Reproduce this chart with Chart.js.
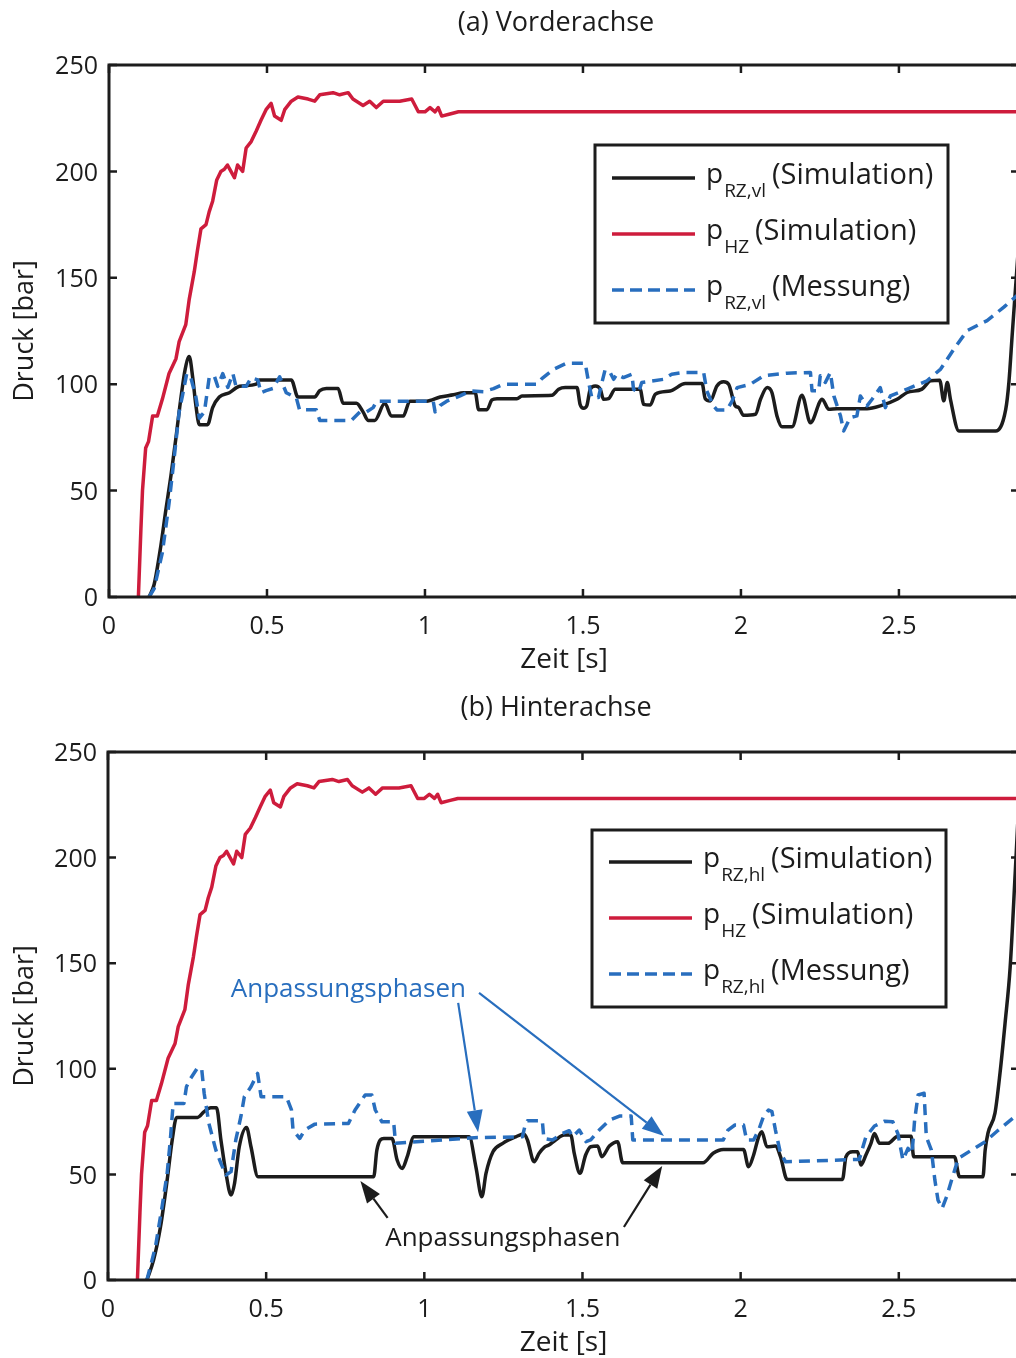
<!DOCTYPE html>
<html>
<head>
<meta charset="utf-8">
<script src="https://cdn.jsdelivr.net/npm/chart.js@4.4.1/dist/chart.umd.min.js"></script>
<style>
  body { margin: 0; width: 1016px; height: 1358px; overflow: hidden; background: #fff; }
  .panel { width: 1020px; height: 679px; }
  canvas { display: block; }
</style>
</head>
<body>
<div class="panel"><canvas id="front" width="1020" height="679"></canvas></div>
<div class="panel"><canvas id="rear" width="1020" height="679"></canvas></div>
<script>
// values (time in s, pressure in bar)

// master cylinder pressure p_HZ (same curve in both panels)
const tHZ = [0.093, 0.101, 0.106, 0.116, 0.125, 0.138, 0.153, 0.169, 0.19, 0.212, 0.222, 0.243, 0.254, 0.27, 0.28,
  0.291, 0.307, 0.317, 0.328, 0.341, 0.354, 0.365, 0.375, 0.386, 0.397, 0.407, 0.423, 0.434, 0.45, 0.466, 0.481,
  0.497, 0.513, 0.524, 0.545, 0.556, 0.577, 0.598, 0.63, 0.651, 0.667, 0.709, 0.73, 0.757, 0.772, 0.804, 0.825,
  0.846, 0.868, 0.92, 0.958, 0.979, 1.0, 1.016, 1.032, 1.042, 1.053, 1.079, 1.106, 2.88];
const pHZ = [0, 32, 50, 70, 73, 85, 85, 93, 105, 112, 120, 128, 140, 153, 163,
  173, 175, 181, 186, 196, 200, 201, 203, 200, 197, 203, 200, 211, 214, 219, 224,
  229, 232, 226, 224, 229, 233, 235, 234, 233, 236, 237, 236, 237, 234, 231, 233,
  230, 233, 233, 234, 228, 228, 230, 228, 230, 226, 227, 228, 228];

// (a) front axle, wheel cylinder simulation
const tVlSim = [0.127, 0.143, 0.164, 0.18, 0.196, 0.212, 0.228, 0.241, 0.254, 0.265, 0.275, 0.286, 0.312, 0.328,
  0.349, 0.381, 0.413, 0.466, 0.476, 0.577, 0.598, 0.651, 0.667, 0.688, 0.725, 0.741, 0.783, 0.804, 0.82, 0.841,
  0.873, 0.894, 0.931, 0.952, 1.005, 1.048, 1.09, 1.122, 1.159, 1.17, 1.196, 1.212, 1.228, 1.291, 1.307, 1.402,
  1.423, 1.444, 1.481, 1.491, 1.502, 1.512, 1.523, 1.539, 1.555, 1.565, 1.581, 1.602, 1.681, 1.692, 1.713, 1.729,
  1.776, 1.824, 1.877, 1.887, 1.903, 1.924, 1.945, 1.961, 1.982, 1.993, 2.008, 2.046, 2.062, 2.083, 2.098, 2.114,
  2.13, 2.162, 2.193, 2.22, 2.257, 2.278, 2.304, 2.399, 2.441, 2.494, 2.526, 2.573, 2.6, 2.629, 2.642, 2.653,
  2.663, 2.69, 2.806, 2.838, 2.848, 2.859, 2.88];
const pVlSim = [0, 6, 24, 41, 57, 75, 94, 107, 113, 103, 90, 81, 81, 89,
  94, 96, 99, 100, 102, 102, 94, 94, 97, 98, 98, 91, 91, 87, 83, 83,
  91, 85, 85, 92, 92, 94, 95, 96, 96, 88, 88, 92.6, 93.2, 93.2, 94.5, 94.8,
  97.6, 98.4, 98.4, 90.5, 88.7, 89.8, 97.6, 99.2, 97.6, 92.9, 93.2, 97.6, 97.6, 90.5, 90.2, 95.3,
  96.8, 100.3, 100.3, 93.2, 92.1, 99.2, 101.1, 100, 89.8, 89, 85.4, 85.9, 92.9, 98.4, 96.1, 85.1,
  80, 80, 94.8, 81.9, 92.9, 88.2, 88.5, 88.5, 89.8, 92.9, 96.1, 97.7, 101.6, 101.9, 92.2, 100.8,
  92.9, 78, 78, 88.2, 100.8, 124.4, 168];

// (a) front axle, wheel cylinder measurement
const tVlMess = [0.127, 0.143, 0.169, 0.19, 0.206, 0.222, 0.233, 0.246, 0.259, 0.275, 0.286, 0.302, 0.317, 0.333,
  0.344, 0.36, 0.376, 0.392, 0.402, 0.434, 0.45, 0.471, 0.481, 0.497, 0.519, 0.54, 0.561, 0.593, 0.603, 0.656,
  0.667, 0.767, 0.794, 0.815, 0.836, 0.847, 1.026, 1.032, 1.048, 1.069, 1.111, 1.143, 1.185, 1.217, 1.249, 1.354,
  1.37, 1.407, 1.449, 1.507, 1.518, 1.528, 1.549, 1.56, 1.57, 1.586, 1.597, 1.607, 1.628, 1.655, 1.66, 1.676,
  1.686, 1.718, 1.755, 1.781, 1.818, 1.882, 1.892, 1.913, 1.924, 1.956, 1.972, 1.988, 2.03, 2.072, 2.146, 2.22,
  2.225, 2.246, 2.251, 2.267, 2.283, 2.294, 2.315, 2.325, 2.346, 2.367, 2.378, 2.399, 2.415, 2.441, 2.457, 2.473,
  2.526, 2.589, 2.632, 2.674, 2.716, 2.779, 2.832, 2.88];
const pVlMess = [0, 4, 21, 44, 65, 87, 95, 105, 103, 94, 84, 87, 103, 104,
  99, 105, 98.5, 105, 99, 99, 103, 102, 96, 97, 98, 103.5, 96, 93.5, 88, 88,
  83, 83, 87, 87, 89, 92, 92, 87, 90, 92, 94.5, 96.8, 96.5, 97.9, 100, 100,
  102.6, 107, 109.9, 109.9, 100.8, 93.7, 93.7, 100.8, 106.7, 105.5, 102.3, 104.7, 103.1, 104.7, 97.6, 96,
  100.8, 101.5, 102.3, 104.7, 105.5, 105.5, 96.8, 89.8, 87.9, 87.9, 92.1, 98.4, 100, 104, 105.2, 105.5,
  96.9, 96.9, 104, 100.8, 105.5, 94.5, 85.1, 78, 84.3, 85.1, 94.5, 89.8, 92.9, 98.4, 89, 94.5,
  97.7, 101.6, 107.1, 116.5, 125.2, 129.9, 136.2, 142.5];

// (b) rear axle, wheel cylinder simulation
const tHlSim = [0.123, 0.144, 0.166, 0.187, 0.203, 0.217, 0.283, 0.304, 0.325, 0.343, 0.357, 0.373, 0.389, 0.4,
  0.415, 0.438, 0.452, 0.474, 0.84, 0.85, 0.872, 0.898, 0.914, 0.93, 0.946, 0.967, 1.142, 1.163, 1.182, 1.195,
  1.217, 1.248, 1.289, 1.315, 1.326, 1.347, 1.363, 1.379, 1.394, 1.415, 1.442, 1.463, 1.474, 1.492, 1.51, 1.526,
  1.548, 1.561, 1.585, 1.611, 1.627, 1.881, 1.913, 1.945, 2.009, 2.025, 2.041, 2.057, 2.067, 2.083, 2.11, 2.126,
  2.147, 2.322, 2.333, 2.354, 2.37, 2.38, 2.396, 2.412, 2.423, 2.439, 2.466, 2.497, 2.539, 2.547, 2.676, 2.692,
  2.766, 2.773, 2.782, 2.804, 2.82, 2.836, 2.852, 2.868, 2.88];
const pHlSim = [0, 9.4, 25.2, 47.3, 66.3, 77, 77, 79.7, 81.6, 81.6, 66.3, 50.5, 40.2, 45.7,
  63.1, 72.2, 63.1, 48.9, 48.9, 61.5, 67, 67, 56.8, 52.8, 58.4, 67.8, 67.8, 53.6, 39.4, 50.5,
  60.7, 64.7, 67.8, 69.1, 66.3, 56, 60, 62.8, 63.9, 66.3, 68.6, 68.6, 60, 50.5, 59.2, 63.1,
  63.4, 58.4, 63.4, 65.5, 55.5, 55.5, 60, 61.8, 61.8, 53.6, 59.2, 67.8, 70.2, 63.1, 63.4, 58.4,
  47.6, 47.6, 58.4, 60.7, 60.7, 54.4, 59.2, 64.7, 69.4, 64.7, 64.7, 68.1, 68.1, 58.4, 58.4, 48.9,
  48.9, 61.5, 69.6, 79, 98, 121.7, 148, 192.7, 228];

// (b) rear axle, wheel cylinder measurement
const tHlMess = [0.123, 0.15, 0.171, 0.187, 0.197, 0.206, 0.24, 0.248, 0.261, 0.282, 0.296, 0.304, 0.319, 0.341,
  0.357, 0.373, 0.389, 0.404, 0.42, 0.431, 0.452, 0.473, 0.484, 0.564, 0.58, 0.585, 0.606, 0.622, 0.654, 0.76,
  0.781, 0.813, 0.834, 0.845, 0.866, 0.903, 0.909, 1.158, 1.31, 1.32, 1.326, 1.373, 1.378, 1.405, 1.421, 1.437,
  1.458, 1.469, 1.49, 1.511, 1.526, 1.553, 1.585, 1.617, 1.654, 1.659, 1.945, 1.96, 1.982, 2.009, 2.019, 2.041,
  2.057, 2.072, 2.088, 2.099, 2.11, 2.126, 2.142, 2.375, 2.396, 2.423, 2.455, 2.481, 2.497, 2.513, 2.529, 2.542,
  2.55, 2.561, 2.58, 2.587, 2.603, 2.614, 2.624, 2.637, 2.651, 2.667, 2.688, 2.73, 2.773, 2.815, 2.88];
const pHlMess = [0, 15.7, 34.7, 50.5, 66.3, 83.6, 83.6, 91.5, 95.4, 100.2, 100.2, 88.4, 74.1, 61.5,
  55.2, 49.7, 51.3, 66.3, 77.3, 86.8, 91.5, 97.8, 86.8, 86.8, 80.5, 71, 67, 71, 73.8, 74.1,
  80.5, 87.6, 87.6, 80.5, 74.9, 74.9, 64.7, 67.4, 67.8, 74.1, 75.4, 75.4, 67, 66.3, 67.8, 69.4,
  70.7, 67.8, 71, 65.5, 66.3, 71, 75.7, 77.6, 77.6, 66.3, 66.3, 71, 73.4, 73.4, 66.3, 66.3,
  71, 77.3, 80.5, 79.7, 71, 60, 56, 57.1, 67.8, 72.9, 75.2, 74.9, 69.4, 56.8, 62.3, 59.9,
  75.7, 87.6, 88.4, 67.8, 61.5, 47.3, 37.8, 33.9, 39.4, 47.3, 57.6, 61.5, 65.5, 71, 79];

const RED = 'rgb(206, 28, 60)';
const BLUE = 'rgb(40, 110, 190)';
const BLACK = '#1c1c1c';
const FONT = '"Open Sans", sans-serif';

function points(t, p) {
    return t.map((x, i) => ({ x: x, y: p[i] }));
}

function drawArrow(ctx, x1, y1, x2, y2, color, width) {
    const ang = Math.atan2(y2 - y1, x2 - x1);
    const len = 22, half = 8;
    const bx = x2 - len * Math.cos(ang);
    const by = y2 - len * Math.sin(ang);
    ctx.strokeStyle = color;
    ctx.fillStyle = color;
    ctx.lineWidth = width;
    ctx.beginPath();
    ctx.moveTo(x1, y1);
    ctx.lineTo(bx, by);
    ctx.stroke();
    ctx.beginPath();
    ctx.moveTo(x2, y2);
    ctx.lineTo(bx + half * Math.sin(ang), by - half * Math.cos(ang));
    ctx.lineTo(bx - half * Math.sin(ang), by + half * Math.cos(ang));
    ctx.closePath();
    ctx.fill();
}

// thick box around the plot, ticks pointing inwards on all four sides
const framePlugin = {
    id: 'frame',
    afterDatasetsDraw(chart) {
        const { ctx, chartArea: a, scales } = chart;
        ctx.save();
        ctx.strokeStyle = BLACK;
        ctx.lineWidth = 3;
        ctx.strokeRect(a.left, a.top, a.right - a.left, a.bottom - a.top);
        ctx.lineWidth = 2.5;
        ctx.beginPath();
        scales.x.ticks.forEach(t => {
            const x = scales.x.getPixelForValue(t.value);
            ctx.moveTo(x, a.bottom); ctx.lineTo(x, a.bottom - 8);
            ctx.moveTo(x, a.top); ctx.lineTo(x, a.top + 8);
        });
        scales.y.ticks.forEach(t => {
            const y = scales.y.getPixelForValue(t.value);
            ctx.moveTo(a.left, y); ctx.lineTo(a.left + 8, y);
            ctx.moveTo(a.right, y); ctx.lineTo(a.right - 8, y);
        });
        ctx.stroke();
        ctx.restore();
    }
};

function makeChart(id, cfg) {
    const ctx = document.getElementById(id).getContext('2d');

    new Chart(ctx, {
        type: 'line',
        data: {
            datasets: [
                { data: points(cfg.tSim, cfg.pSim), borderColor: BLACK, borderWidth: 3.5,
                  cubicInterpolationMode: 'monotone', order: 3 },
                { data: points(tHZ, pHZ), borderColor: RED, borderWidth: 3.5, order: 2 },
                { data: points(cfg.tMess, cfg.pMess), borderColor: BLUE, borderWidth: 3.5,
                  borderDash: [11, 7], order: 1 }
            ]
        },
        options: {
            responsive: false,
            animation: false,
            events: [],
            locale: 'en-US',
            layout: { padding: { top: cfg.top, right: 1, left: 0, bottom: 0 } },
            elements: { point: { radius: 0 }, line: { tension: 0, borderJoinStyle: 'round' } },
            plugins: { legend: { display: false }, tooltip: { enabled: false } },
            scales: {
                x: {
                    type: 'linear', min: 0, max: 2.88,
                    grid: { display: false, drawTicks: false },
                    border: { display: false },
                    ticks: { stepSize: 0.5, includeBounds: false, autoSkip: false, maxRotation: 0,
                             padding: 15, color: BLACK, font: { family: FONT, size: 25 },
                             callback: v => String(v) },
                    title: { display: true, text: 'Zeit [s]', color: BLACK,
                             font: { family: FONT, size: 28 }, padding: { top: 0, bottom: cfg.xTitlePad } },
                    afterFit: s => { s.height = cfg.xHeight; }
                },
                y: {
                    min: 0, max: 250,
                    grid: { display: false, drawTicks: false },
                    border: { display: false },
                    ticks: { stepSize: 50, padding: 11, labelOffset: 2, color: BLACK,
                             font: { family: FONT, size: 25 } },
                    title: { display: true, text: 'Druck [bar]', color: BLACK,
                             font: { family: FONT, size: 27 }, padding: { top: 9, bottom: 0 } },
                    afterFit: s => { s.width = cfg.left; }
                }
            }
        },
        plugins: [framePlugin, {
            id: 'extras',
            afterDraw: function(chart) {
                const c = chart.ctx;
                const sx = chart.scales.x, sy = chart.scales.y;
                c.save();

                // panel title
                c.fillStyle = BLACK;
                c.font = '27px ' + FONT;
                c.textAlign = 'center';
                c.textBaseline = 'middle';
                c.fillText(cfg.title, cfg.titleX, cfg.titleY);

                // annotations, placed in data units
                (cfg.notes || []).forEach(n => {
                    c.fillStyle = n.color;
                    c.font = '26px ' + FONT;
                    c.textAlign = 'center';
                    c.textBaseline = 'middle';
                    c.fillText(n.text, sx.getPixelForValue(n.at[0]), sy.getPixelForValue(n.at[1]));
                    n.arrows.forEach(a => {
                        drawArrow(c, sx.getPixelForValue(a[0][0]), sy.getPixelForValue(a[0][1]),
                            sx.getPixelForValue(a[1][0]), sy.getPixelForValue(a[1][1]), n.color, 2.2);
                    });
                });

                // legend with subscripts
                const L = cfg.legend;
                c.fillStyle = '#fff';
                c.fillRect(L.x, L.y, L.w, L.h);
                c.strokeStyle = BLACK;
                c.lineWidth = 3;
                c.strokeRect(L.x, L.y, L.w, L.h);
                c.textAlign = 'left';
                c.textBaseline = 'alphabetic';
                L.items.forEach((it, i) => {
                    const y = L.y + L.first + i * L.step;
                    c.strokeStyle = it.color;
                    c.lineWidth = 3.5;
                    c.setLineDash(it.dash || []);
                    c.beginPath();
                    c.moveTo(L.x + 17, y);
                    c.lineTo(L.x + 100, y);
                    c.stroke();
                    c.setLineDash([]);
                    c.fillStyle = BLACK;
                    let x = L.x + 111;
                    c.font = '28px ' + FONT;
                    c.fillText('p', x, y + 5);
                    x += c.measureText('p').width + 1;
                    c.font = '19px ' + FONT;
                    c.fillText(it.sub, x, y + 19);
                    x += c.measureText(it.sub).width + 6;
                    c.font = '29px ' + FONT;
                    c.fillText(it.label, x, y + 6);
                });
                c.restore();
            }
        }]
    });
}

makeChart('front', {
    tSim: tVlSim, pSim: pVlSim, tMess: tVlMess, pMess: pVlMess,
    top: 65, left: 109, xHeight: 82, xTitlePad: 2,
    title: '(a) Vorderachse', titleX: 556, titleY: 23,
    legend: { x: 595, y: 145, w: 353, h: 178, first: 33, step: 56, items: [
        { color: BLACK, sub: 'RZ,vl', label: '(Simulation)' },
        { color: RED, sub: 'HZ', label: '(Simulation)' },
        { color: BLUE, sub: 'RZ,vl', label: '(Messung)', dash: [12, 6] }
    ] }
});

makeChart('rear', {
    tSim: tHlSim, pSim: pHlSim, tMess: tHlMess, pMess: pHlMess,
    top: 73, left: 108, xHeight: 78, xTitlePad: -2,
    title: '(b) Hinterachse', titleX: 556, titleY: 29,
    legend: { x: 592, y: 151, w: 354, h: 177, first: 32, step: 56, items: [
        { color: BLACK, sub: 'RZ,hl', label: '(Simulation)' },
        { color: RED, sub: 'HZ', label: '(Simulation)' },
        { color: BLUE, sub: 'RZ,hl', label: '(Messung)', dash: [12, 6] }
    ] },
    notes: [
        { text: 'Anpassungsphasen', color: BLUE, at: [0.76, 137.3],
          arrows: [[[1.107, 131.2], [1.170, 70]], [[1.173, 135.9], [1.758, 68.2]]] },
        { text: 'Anpassungsphasen', color: BLACK, at: [1.248, 19.4],
          arrows: [[[0.884, 29.4], [0.798, 46.9]], [[1.631, 25.1], [1.752, 54]]] }
    ]
});
</script>
</body>
</html>
